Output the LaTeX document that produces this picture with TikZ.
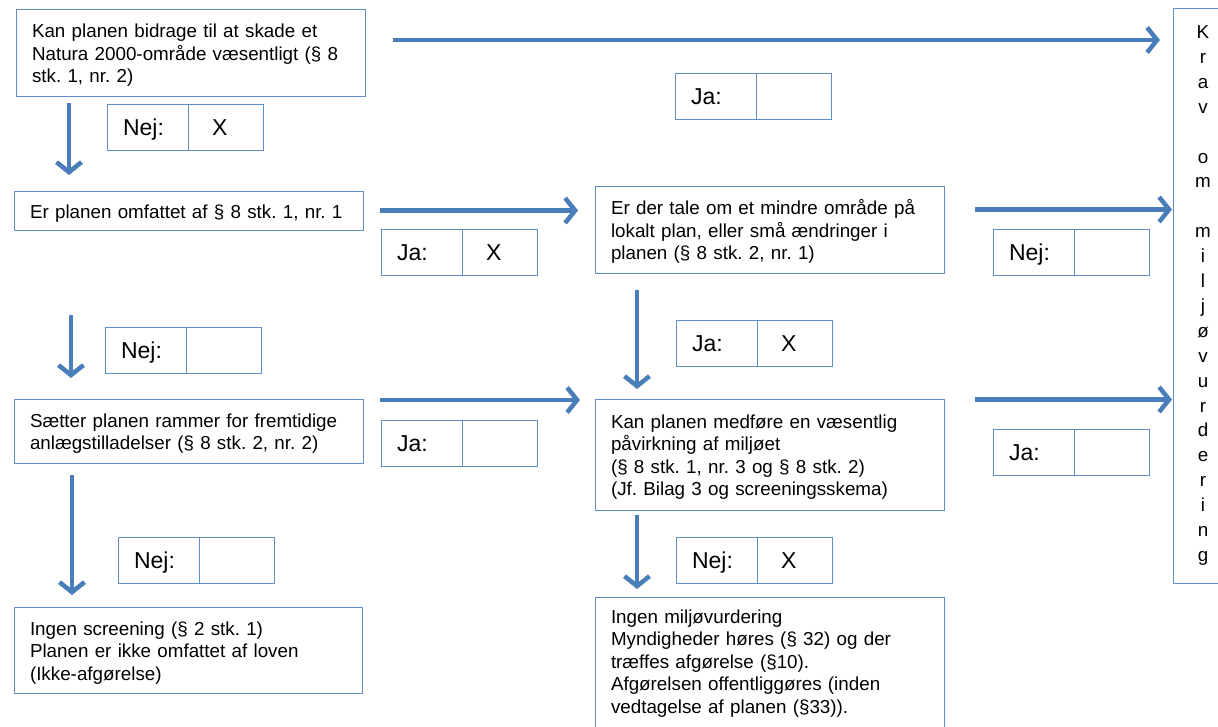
\documentclass[tikz,border=0pt]{standalone}
\usepackage{fontspec}
\setmainfont{Liberation Sans}
\usetikzlibrary{arrows.meta,positioning}
\definecolor{arrowblue}{RGB}{74,126,187}
\definecolor{lineblue}{RGB}{96,142,203}
\frenchspacing
\hyphenpenalty=10000
\exhyphenpenalty=10000
\begin{document}
\begin{tikzpicture}[x=1pt, y=-1pt, node distance=0pt, every node/.style={outer sep=0pt, anchor=north west},
    box/.style={draw=lineblue, line width=1pt, inner xsep=16pt, inner ysep=0pt, align=left, font=\fontsize{18.8}{22.5}\selectfont},
    qbox/.style={box, text height=19pt},
    lbl/.style={draw=lineblue, line width=1pt, minimum height=46pt, text width=49pt, text height=18pt, text depth=2pt, inner xsep=16pt, inner ysep=0pt, align=left, font=\fontsize{23}{27}\selectfont},
    val/.style={lbl, text width=27pt, inner xsep=24pt},
    flow/.style={draw=arrowblue, line width=4.5pt, -{Straight Barb[length=10pt,width=25pt]}}]
    \path[use as bounding box, fill=white] (0,0) rectangle (1218,726);
    % question boxes
    \node[qbox, minimum width=349pt, minimum height=87pt, text width=317pt] (natura) at (16,9) {Kan planen bidrage til at skade et\\\mbox{Natura 2000-område væsentligt (§ 8}\\stk. 1, nr. 2)};
    \node[qbox, minimum width=349pt, minimum height=39pt, text width=317pt] (omfattet) at (14,191) {Er planen omfattet af § 8 stk. 1, nr. 1};
    \node[qbox, minimum width=349pt, minimum height=87pt, text width=317pt] (mindre) at (595,186) {Er der tale om et mindre område på\\lokalt plan, eller små ændringer i\\planen (§ 8 stk. 2, nr. 1)};
    \node[qbox, minimum width=349pt, minimum height=64pt, text width=317pt] (rammer) at (14,399) {Sætter planen rammer for fremtidige\\anlægstilladelser (§ 8 stk. 2, nr. 2)};
    \node[qbox, minimum width=349pt, minimum height=111pt, text width=317pt] (medfoere) at (595,399) {Kan planen medføre en væsentlig\\påvirkning af miljøet\\(§ 8 stk. 1, nr. 3 og § 8 stk. 2)\\(Jf. Bilag 3 og screeningsskema)};
    \node[qbox, minimum width=348pt, minimum height=86pt, text width=316pt] (screening) at (14,607) {Ingen screening (§ 2 stk. 1)\\Planen er ikke omfattet af loven\\(Ikke-afgørelse)};
    \node[qbox, minimum width=349pt, text width=317pt, inner ysep=7pt, text depth=130pt] (ingenmv) at (595,597) {Ingen miljøvurdering\\Myndigheder høres (§ 32) og der\\træffes afgørelse (§10).\\Afgørelsen offentliggøres (inden\\vedtagelse af planen (§33)).};
    \node[box, minimum width=60pt, minimum height=575pt, inner xsep=0pt, align=center, font=\fontsize{18.8}{24.9}\selectfont] (krav) at (1173,8) {K\\r\\a\\v\\\mbox{}\\o\\m\\\mbox{}\\m\\i\\l\\j\\ø\\v\\u\\r\\d\\e\\r\\i\\n\\g};
    % answer cells
    \node[lbl] (naturaNej) at (107,104) {Nej:};
    \node[val, right=of naturaNej] (naturaNejV) {X};
    \node[lbl] (naturaJa) at (675,73) {Ja:};
    \node[val, right=of naturaJa] (naturaJaV) {};
    \node[lbl] (omfattetJa) at (381,229) {Ja:};
    \node[val, right=of omfattetJa] (omfattetJaV) {X};
    \node[lbl] (omfattetNej) at (105,327) {Nej:};
    \node[val, right=of omfattetNej] (omfattetNejV) {};
    \node[lbl] (mindreNej) at (993,229) {Nej:};
    \node[val, right=of mindreNej] (mindreNejV) {};
    \node[lbl] (mindreJa) at (676,320) {Ja:};
    \node[val, right=of mindreJa] (mindreJaV) {X};
    \node[lbl] (rammerJa) at (381,420) {Ja:};
    \node[val, right=of rammerJa] (rammerJaV) {};
    \node[lbl] (rammerNej) at (118,537) {Nej:};
    \node[val, right=of rammerNej] (rammerNejV) {};
    \node[lbl] (medfoereJa) at (993,429) {Ja:};
    \node[val, right=of medfoereJa] (medfoereJaV) {};
    \node[lbl] (medfoereNej) at (676,537) {Nej:};
    \node[val, right=of medfoereNej] (medfoereNejV) {X};
    % arrows
    \draw[flow, shorten <=28pt, shorten >=13pt] ([yshift=12.5pt]natura.east) -- ([yshift=12.5pt]natura.east -| krav.west);
    \draw[flow, shorten <=7pt, shorten >=16pt] ([xshift=53pt]natura.south west) -- ([xshift=53pt]natura.south west |- omfattet.north);
    \draw[flow, shorten <=17pt, shorten >=17pt] (omfattet.east) -- (omfattet.east -| mindre.west);
    \draw[flow, shorten <=31pt, shorten >=1pt] ([yshift=20pt]mindre.east) -- ([yshift=20pt]mindre.east -| krav.west);
    \draw[flow, shorten <=17pt, shorten >=10pt] ([xshift=42pt]mindre.south west) -- ([xshift=42pt]mindre.south west |- medfoere.north);
    \draw[flow, shorten <=85pt, shorten >=21pt] ([xshift=57pt]omfattet.south west) -- ([xshift=57pt]omfattet.south west |- rammer.north);
    \draw[flow, shorten <=17pt, shorten >=15pt] ([yshift=31pt]rammer.east) -- ([yshift=31pt]rammer.east -| medfoere.west);
    \draw[flow, shorten <=31pt, shorten >=1pt] ([yshift=55pt]medfoere.east) -- ([yshift=55pt]medfoere.east -| krav.west);
    \draw[flow, shorten <=12pt, shorten >=12pt] ([xshift=58pt]rammer.south west) -- ([xshift=58pt]rammer.south west |- screening.north);
    \draw[flow, shorten <=5pt, shorten >=8pt] ([xshift=42pt]medfoere.south west) -- ([xshift=42pt]medfoere.south west |- ingenmv.north);
\end{tikzpicture}
\end{document}
